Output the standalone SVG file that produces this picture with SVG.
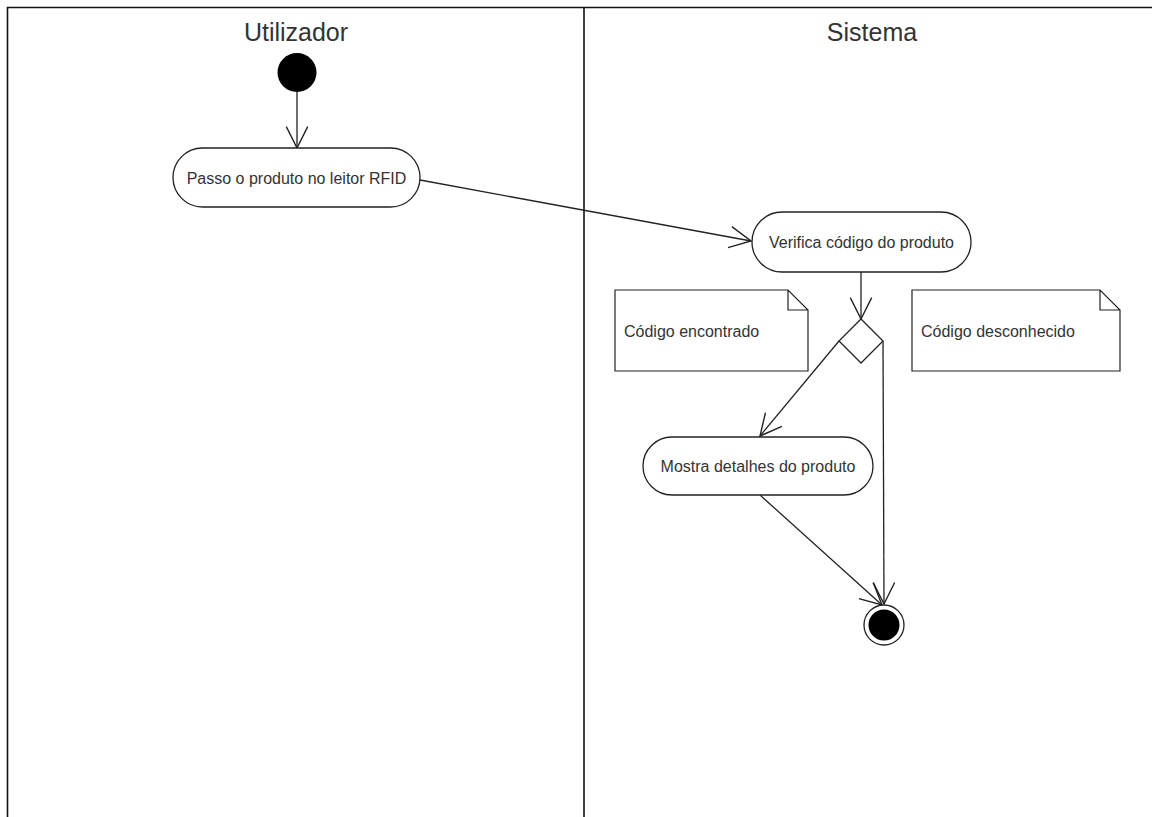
<svg xmlns="http://www.w3.org/2000/svg" width="1152" height="817" viewBox="0 0 1152 817">
<style>
.frame{stroke:#111;stroke-width:1.6;fill:none}
.node{fill:#fff;stroke:#222;stroke-width:1.3}
.note{fill:#fff;stroke:#222;stroke-width:1.2}
.conn{stroke:#222;stroke-width:1.3;fill:none}
.lbl{font-family:"Liberation Sans",Arial,sans-serif;font-size:16px;fill:#333}
.hdr{font-family:"Liberation Sans",Arial,sans-serif;font-size:25px;fill:#333;text-anchor:middle}
</style>
<defs>
<marker id="arr" markerUnits="userSpaceOnUse" markerWidth="30" markerHeight="30" viewBox="-24 -12 28 24" refX="0" refY="0" orient="auto">
<path d="M-20,-10 L0,0 L-20,10" fill="none" stroke="#222" stroke-width="1.3"/>
</marker>
</defs>
<rect width="1152" height="817" fill="#fff"/>
<g id="lanes">
<path class="frame" d="M7.5,817 V7.5 H1152"/>
<path class="frame" d="M584,7.5 V817"/>
<text class="hdr" x="296" y="41">Utilizador</text>
<text class="hdr" x="872" y="41">Sistema</text>
</g>
<g id="connectors">
<line class="conn" x1="297" y1="92" x2="297" y2="148" marker-end="url(#arr)"/>
<line class="conn" x1="420" y1="180" x2="751" y2="241" marker-end="url(#arr)"/>
<line class="conn" x1="861" y1="272" x2="861" y2="319" marker-end="url(#arr)"/>
<line class="conn" x1="839" y1="341" x2="760" y2="436" marker-end="url(#arr)"/>
<line class="conn" x1="883" y1="341" x2="884" y2="604" marker-end="url(#arr)"/>
<line class="conn" x1="760" y1="495" x2="882" y2="605" marker-end="url(#arr)"/>
</g>
<g id="start"><circle cx="297" cy="72.5" r="19.5" fill="#000"/></g>
<g id="passo">
<rect class="node" x="173" y="148" width="247" height="59" rx="29.5"/>
<text class="lbl" x="296.5" y="183.5" text-anchor="middle">Passo o produto no leitor RFID</text>
</g>
<g id="verifica">
<rect class="node" x="752" y="212" width="219" height="60" rx="30"/>
<text class="lbl" x="861.5" y="247.5" text-anchor="middle">Verifica código do produto</text>
</g>
<g id="note1">
<path class="note" d="M615,290 H788 L808,310 V371 H615 Z M788,290 V310 H808"/>
<text class="lbl" x="624" y="337">Código encontrado</text>
</g>
<g id="note2">
<path class="note" d="M912,290 H1100 L1120,310 V371 H912 Z M1100,290 V310 H1120"/>
<text class="lbl" x="921" y="337">Código desconhecido</text>
</g>
<g id="decision"><path class="node" d="M861,319 L883,341 L861,363 L839,341 Z"/></g>
<g id="mostra">
<rect class="node" x="643" y="437" width="230" height="58" rx="29"/>
<text class="lbl" x="758" y="471.5" text-anchor="middle">Mostra detalhes do produto</text>
</g>
<g id="end">
<circle cx="884" cy="625" r="20" fill="#fff" stroke="#222" stroke-width="1.3"/>
<circle cx="884" cy="625" r="15.5" fill="#000"/>
</g>
</svg>
